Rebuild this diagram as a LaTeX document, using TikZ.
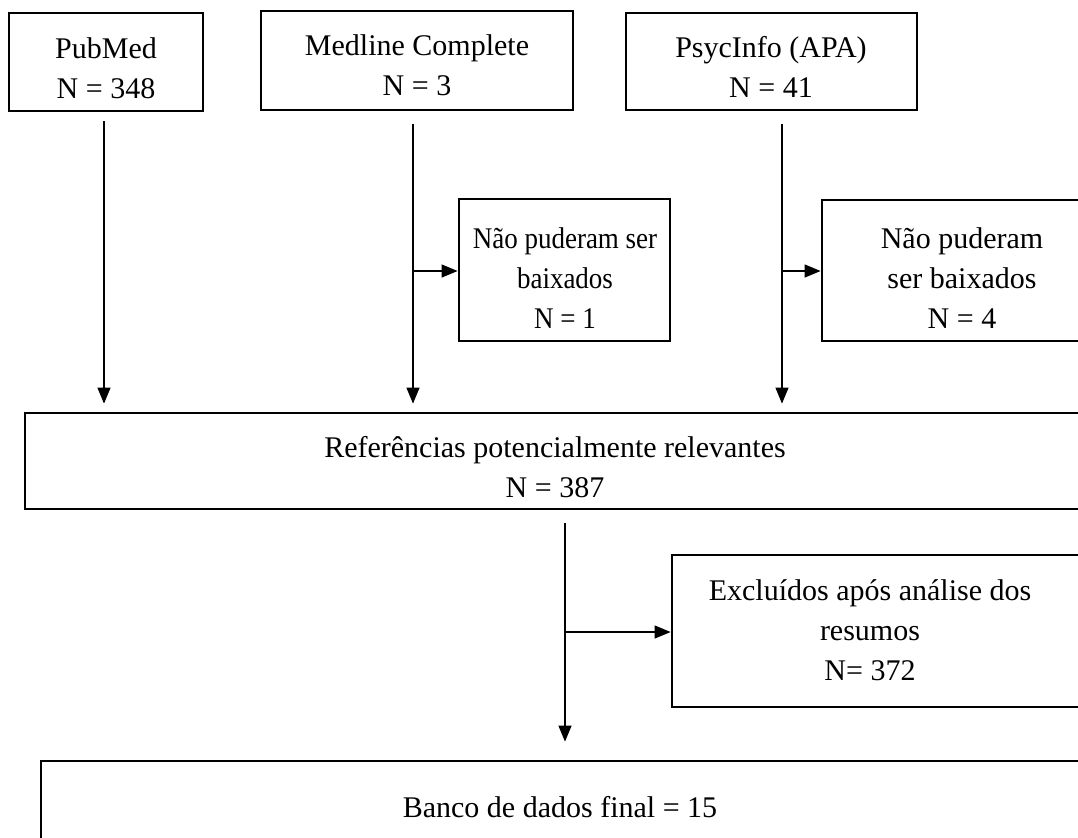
\documentclass[tikz,border=0pt]{standalone}
\usepackage{fontspec}
\setmainfont{Liberation Serif}
\newfontfamily\narrowserif[FakeStretch=0.9]{Liberation Serif}
\usetikzlibrary{arrows.meta,fit}
\begin{document}
\begin{tikzpicture}[x=0.5pt,y=-0.5pt,
  box/.style={draw,line width=1.4pt,inner sep=0pt},
  txt/.style={inner sep=0pt,align=center,font=\fontsize{15}{20}\selectfont},
  arr/.style={line width=0.6pt,-{Triangle[length=8pt,width=6.5pt]}}]
\useasboundingbox (0,0) rectangle (1078,837);
\clip (0,0) rectangle (1078,837);
% source boxes
\node[box,fit={(9,13) (203,111)}] (pub) {};
\node[txt] (pubt) at (106,68) {PubMed\\N = 348};
\node[box,fit={(261,11) (573,110)}] (med) {};
\node[txt] (medt) at (417,65) {Medline Complete\\N = 3};
\node[box,fit={(626,13) (917,110)}] (psy) {};
\node[txt] (psyt) at (771,67) {PsycInfo (APA)\\N = 41};
% excluded (not downloaded)
\node[box,fit={(459,199) (670,341)}] (nao1) {};
\node[txt,font=\narrowserif\fontsize{15}{20}\selectfont] (nao1t) at (565,278) {N\~ao puderam ser\\baixados\\N = 1};
\node[box,fit={(822,200) (1110,341)}] (nao2) {};
\node[txt] (nao2t) at (962,278) {N\~ao puderam\\ser baixados\\N = 4};
% merged
\node[box,fit={(25,413) (1090,509)}] (ref) {};
\node[txt] (reft) at (555,467) {Referências potencialmente relevantes\\N = 387};
% excluded after abstracts
\node[box,fit={(672,555) (1090,707)}] (exc) {};
\node[txt] (exct) at (870,630) {Excluídos após análise dos\\resumos\\N= 372};
% final
\node[box,fit={(41,761) (1090,900)}] (fin) {};
\node[txt] (fint) at (560,807) {Banco de dados final = 15};
% connectors
\coordinate (p0) at (104,121);
\coordinate (m0) at (413,124);
\coordinate (s0) at (782,124);
\coordinate (r0) at (565,523);
\coordinate (mb) at (413,271);
\coordinate (sb) at (782,271);
\coordinate (rb) at (565,632);
\draw[arr,shorten >=4pt] (p0) -- (p0 |- ref.north);
\draw[arr,shorten >=4pt] (m0) -- (m0 |- ref.north);
\draw[arr,shorten >=4pt] (s0) -- (s0 |- ref.north);
\draw[arr] (mb) -- (mb -| nao1.west);
\draw[arr] (sb) -- (sb -| nao2.west);
\draw[arr,shorten >=9pt] (r0) -- (r0 |- fin.north);
\draw[arr] (rb) -- (rb -| exc.west);
\end{tikzpicture}
\end{document}
